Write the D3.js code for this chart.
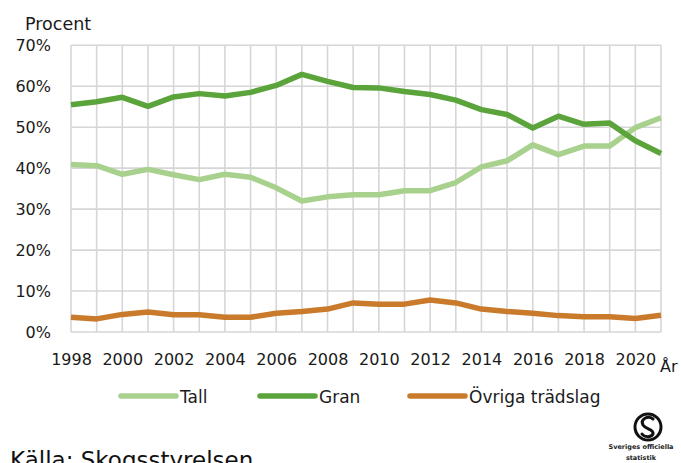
<!DOCTYPE html>
<html><head><meta charset="utf-8">
<script src="https://cdn.jsdelivr.net/npm/d3@7/dist/d3.min.js"></script>
<style>body{margin:0;background:#fff}svg{display:block;font-family:"DejaVu Sans",Verdana,sans-serif}</style>
</head><body>
<script>
const years = d3.range(1998, 2022);
const tall = [40.9,40.6,38.5,39.7,38.4,37.2,38.5,37.8,35.2,32.0,33.0,33.5,33.5,34.5,34.5,36.5,40.3,41.8,45.7,43.3,45.4,45.4,49.9,52.3];
const gran = [55.5,56.2,57.3,55.1,57.4,58.2,57.6,58.5,60.2,62.9,61.2,59.7,59.6,58.7,58.0,56.6,54.3,53.1,49.8,52.7,50.7,51.0,46.7,43.6];
const ovriga = [3.6,3.2,4.3,4.9,4.2,4.2,3.6,3.6,4.6,5.0,5.6,7.1,6.8,6.8,7.8,7.1,5.6,5.0,4.6,4.0,3.7,3.7,3.3,4.1];
const yTicks = [0,10,20,30,40,50,60,70];
const xTickYears = d3.range(1998, 2021, 2);
const seriesNames = ["Tall","Gran","Övriga trädslag"];
const seriesColors = ["#a9d18e","#5ba43c","#c97b2b"];
const seriesData = [tall, gran, ovriga];

const W = 681, H = 463;
const svg = d3.select("body").append("svg").attr("width", W).attr("height", H);
const x = d3.scaleLinear().domain([1998, 2021]).range([71, 661]);
const y = d3.scaleLinear().domain([0, 70]).range([332, 45.3]);

// grid
const grid = svg.append("g").attr("stroke", "#d6d6d6").attr("stroke-width", 1.6);
grid.selectAll("line.v").data(years).join("line")
  .attr("x1", d => x(d)).attr("x2", d => x(d)).attr("y1", y(70)).attr("y2", y(0));
grid.selectAll("line.h").data(yTicks).join("line")
  .attr("x1", x(1998)).attr("x2", x(2021)).attr("y1", d => y(d)).attr("y2", d => y(d));

// y axis labels
const yAxis = d3.axisLeft(y).tickValues(yTicks).tickFormat(d => d + "%").tickSize(0).tickPadding(20);
const ya = svg.append("g").attr("transform", `translate(${x(1998)},0)`).call(yAxis);
ya.select(".domain").remove();
ya.selectAll("text").attr("font-size", 16).attr("fill", "#1a1a1a").attr("font-family", "DejaVu Sans, Verdana, sans-serif");

// x axis labels
const xAxis = d3.axisBottom(x).tickValues(xTickYears).tickFormat(d3.format("d")).tickSize(0).tickPadding(22);
const xa = svg.append("g").attr("transform", `translate(0,${y(0)})`).call(xAxis);
xa.select(".domain").remove();
xa.selectAll("text").attr("font-size", 16).attr("fill", "#1a1a1a").attr("font-family", "DejaVu Sans, Verdana, sans-serif");

svg.append("text").attr("x", 660).attr("y", 372).attr("font-size", 16).attr("fill", "#1a1a1a").text("År");
svg.append("text").attr("x", 25).attr("y", 30).attr("font-size", 17.5).attr("fill", "#1a1a1a").text("Procent");

// lines
const line = d3.line().x((d, i) => x(years[i])).y(d => y(d));
svg.append("g").selectAll("path").data(seriesData).join("path")
  .attr("d", d => line(d)).attr("fill", "none")
  .attr("stroke", (d, i) => seriesColors[i]).attr("stroke-width", 5.5)
  .attr("stroke-linejoin", "round").attr("stroke-linecap", "butt");

// legend
const legX = [121, 260, 410];
const lg = svg.append("g").selectAll("g").data(seriesNames).join("g")
  .attr("transform", (d, i) => `translate(${legX[i]},396)`);
lg.append("line").attr("x1", 0).attr("x2", 55).attr("y1", 0).attr("y2", 0)
  .attr("stroke", (d, i) => seriesColors[i]).attr("stroke-width", 5.5).attr("stroke-linecap", "round");
lg.append("text").attr("x", 59).attr("y", 7).attr("font-size", 17).attr("fill", "#1a1a1a").text(d => d);

// source
svg.append("text").attr("x", 10).attr("y", 468).attr("font-size", 23).attr("fill", "#111").text("Källa: Skogsstyrelsen");

// logo
const logo = svg.append("g").attr("transform", "translate(648,427)");
logo.append("circle").attr("r", 13).attr("fill", "none").attr("stroke", "#111").attr("stroke-width", 3);
logo.append("path").attr("d", "M5,-8 C0,-12 -8,-8 -5,-2 C-2,3 6,2 5,7 C3,11 -4,10 -6,7")
  .attr("fill", "none").attr("stroke", "#111").attr("stroke-width", 3).attr("stroke-linecap", "round");
logo.append("text").attr("x", -7).attr("y", 22).attr("text-anchor", "middle").attr("font-size", 6.5).attr("font-weight", "bold").attr("fill", "#222").text("Sveriges officiella");
logo.append("text").attr("x", -7).attr("y", 33).attr("text-anchor", "middle").attr("font-size", 6.5).attr("font-weight", "bold").attr("fill", "#222").text("statistik");
</script>
</body></html>
